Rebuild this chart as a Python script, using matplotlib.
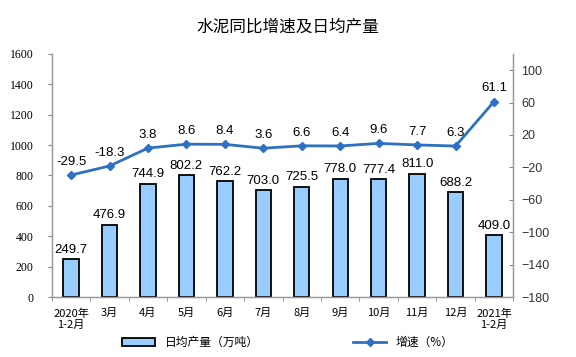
import numpy as np
import matplotlib.pyplot as plt
from matplotlib.ticker import FixedLocator

plt.rcParams['font.family'] = ['Liberation Serif', 'Noto Sans CJK SC']

months = ['2020年\n1-2月', '3月', '4月', '5月', '6月', '7月', '8月', '9月', '10月', '11月', '12月', '2021年\n1-2月']
output = [249.7, 476.9, 744.9, 802.2, 762.2, 703.0, 725.5, 778.0, 777.4, 811.0, 688.2, 409.0]
growth = [-29.5, -18.3, 3.8, 8.6, 8.4, 3.6, 6.6, 6.4, 9.6, 7.7, 6.3, 61.1]

line_color = '#2E70C2'
x = np.arange(len(months))

fig = plt.figure(figsize=(5.76, 3.57), dpi=100)
ax = fig.add_axes([0.090, 0.168, 0.801, 0.681])
ax2 = ax.twinx()

ax.bar(x, output, width=0.4, color='#99CCFF', edgecolor='black', linewidth=1.3,
       label='日均产量（万吨）', zorder=2)
for xi, v in zip(x, output):
    ax.text(xi, v + 22, f'{v:.1f}', ha='center', va='bottom', fontsize=9.5,
            family=['Liberation Sans'])

ax2.plot(x, growth, color=line_color, lw=2, marker='D', ms=4, label='增速（%）', zorder=3)
for xi, v in zip(x, growth):
    ax2.text(xi, v + 9, f'{v:.1f}', ha='center', va='bottom', fontsize=9.5,
             family=['Liberation Sans'])

ax.set_xlim(-0.5, len(months) - 0.5)
ax.set_ylim(0, 1600)
ax.set_yticks(np.arange(0, 1601, 200))
ax2.set_ylim(-180, 120)
ax2.set_yticks(np.arange(-180, 101, 40))

ax.set_xticks(x)
ax.set_xticklabels(months, fontsize=8, family=['Noto Sans CJK SC'])
ax.tick_params(axis='x', length=0, pad=8)
ax.xaxis.set_minor_locator(FixedLocator(np.arange(-0.5, len(months), 1)))
ax.tick_params(axis='x', which='minor', length=3, color='#888888')
ax.tick_params(axis='y', labelsize=8.5, length=3, color='#888888', pad=10)
ax2.tick_params(axis='y', labelsize=9, length=3, color='#888888', pad=6,
                direction='in', labelcolor='#333333')
for lab in ax2.get_yticklabels():
    lab.set_family(['Liberation Sans'])

for a in (ax, ax2):
    a.spines['top'].set_visible(False)
    for s in ('left', 'right', 'bottom'):
        a.spines[s].set_color('#999999')
        a.spines[s].set_linewidth(0.9)

fig.text(0.5, 0.925, '水泥同比增速及日均产量', ha='center', va='center', fontsize=12,
         family=['Noto Sans CJK SC'])

h1, l1 = ax.get_legend_handles_labels()
h2, l2 = ax2.get_legend_handles_labels()
fig.legend(h1 + h2, l1 + l2, loc='center', bbox_to_anchor=(0.5, 0.04), ncol=2, frameon=False,
           prop={'family': 'Noto Sans CJK SC', 'size': 8.5}, columnspacing=8,
           handlelength=2.8, handleheight=0.6)

fig.savefig('out.png', dpi=100)
